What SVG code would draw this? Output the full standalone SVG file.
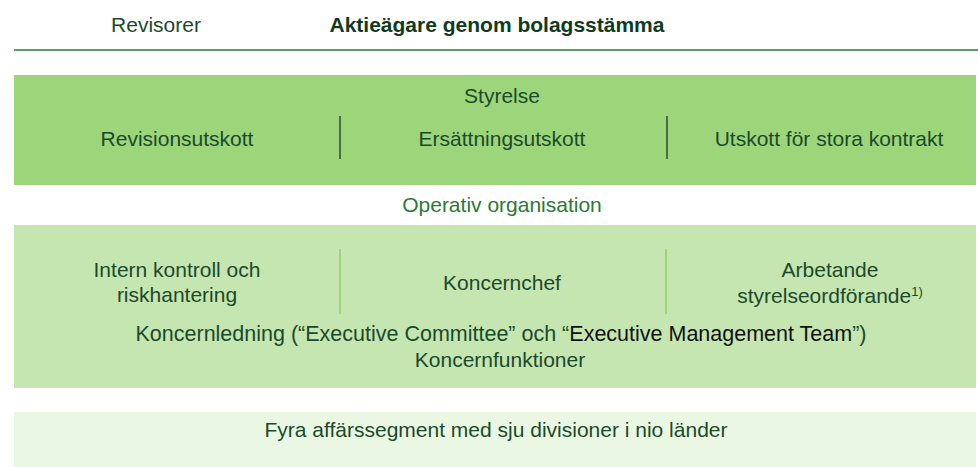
<svg xmlns="http://www.w3.org/2000/svg" width="978" height="467" viewBox="0 0 978 467">
<style>
text{font-family:"Liberation Sans",Arial,sans-serif;font-size:21px;fill:#1b4a2b;text-anchor:middle}
.b{font-weight:bold;fill:#0f3b1d}
.g{fill:#2a7a34}
.sup{font-size:13px}
.dk{stroke:#1b3a24;stroke-width:1.3}
.lt{stroke:#8fcf6f;stroke-width:1.5}
</style>
<rect width="978" height="467" fill="#ffffff"/>
<g id="header">
<text x="156" y="32">Revisorer</text>
<text class="b" x="497" y="32">Aktieägare genom bolagsstämma</text>
<line x1="14" y1="50" x2="978" y2="50" stroke="#2e7d32" stroke-width="1.6"/>
</g>
<g id="styrelse">
<rect x="14" y="75" width="962" height="110" fill="#9dd57b"/>
<text x="502" y="103">Styrelse</text>
<text x="177" y="146">Revisionsutskott</text>
<text x="502" y="146">Ersättningsutskott</text>
<text x="829" y="146">Utskott för stora kontrakt</text>
<line class="dk" x1="340" y1="116" x2="340" y2="159"/>
<line class="dk" x1="667" y1="116" x2="667" y2="159"/>
</g>
<g id="operativ">
<text class="g" x="502" y="212">Operativ organisation</text>
</g>
<g id="koncern">
<rect x="14" y="225" width="962" height="163" fill="#c5e6b0"/>
<text x="177" y="277">Intern kontroll och</text>
<text x="177" y="302">riskhantering</text>
<text x="502" y="290">Koncernchef</text>
<text x="830" y="277">Arbetande</text>
<text x="830" y="303">styrelseordförande<tspan class="sup" dy="-7">1)</tspan></text>
<line class="lt" x1="340" y1="249" x2="340" y2="314"/>
<line class="lt" x1="666" y1="249" x2="666" y2="314"/>
<text x="501" y="341" style="font-size:21.5px">Koncernledning (“Executive Committee” och “<tspan fill="#111">Executive Management Team</tspan>”)</text>
<text x="500" y="367">Koncernfunktioner</text>
</g>
<g id="segment">
<rect x="14" y="412" width="962" height="55" fill="#eaf8e3"/>
<text x="496" y="437">Fyra affärssegment med sju divisioner i nio länder</text>
</g>
</svg>
